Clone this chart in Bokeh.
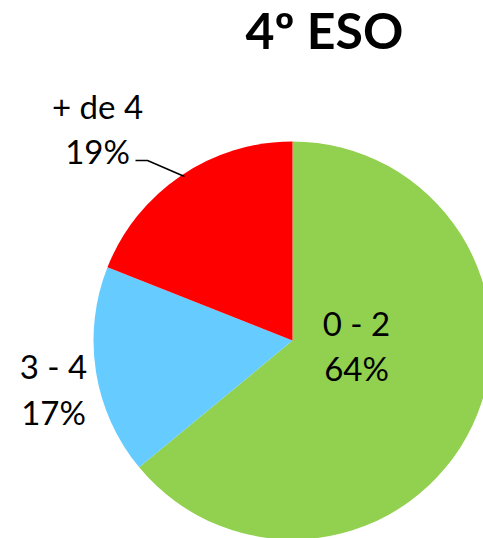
import math
from bokeh.plotting import figure
from bokeh.models import Range1d, ColumnDataSource
from bokeh.core.properties import value
from bokeh.embed import file_html
from bokeh.resources import INLINE

title = "4º ESO"
categories = ["0 - 2", "3 - 4", "+ de 4"]
percents = [64, 17, 19]
colors = ["#92D050", "#66CCFF", "#FF0000"]

W, H = 483, 538
p = figure(width=W, height=H, output_backend="svg", toolbar_location=None,
           x_range=Range1d(0, W), y_range=Range1d(0, H))
p.axis.visible = False
p.grid.visible = False
p.outline_line_color = None
p.min_border = 0
p.background_fill_color = "white"

cx, cy, r = 292, 198, 199
total = sum(percents)
starts, ends = [], []
a = math.pi / 2
for v in percents:
    starts.append(a)
    a = a - v / total * 2 * math.pi
    ends.append(a)

src = ColumnDataSource(dict(start=starts, end=ends, color=colors,
                            x=[cx] * 3, y=[cy] * 3))
p.wedge(x="x", y="y", radius=r, start_angle="start", end_angle="end",
        direction="clock", fill_color="color", line_color=None, source=src)

# leader line for "+ de 4"
p.line(x=[135, 147, 184], y=[378, 378, 362], line_color="black", line_width=1.5)

label_pos = [(356, 216, 171), (53, 173, 127), (97, 433, 388)]
font = value("Lato")
for cat, v, (lx, ly1, ly2) in zip(categories, percents, label_pos):
    p.text(x=[lx], y=[ly1], text=[cat], text_font=font, text_font_size="33px",
           text_align="center", text_baseline="middle", text_color="black")
    p.text(x=[lx], y=[ly2], text=[f"{v}%"], text_font=font, text_font_size="33px",
           text_align="center", text_baseline="middle", text_color="black")

p.text(x=[324], y=[509], text=[title], text_font=font, text_font_size="50px",
       text_font_style="bold", text_align="center", text_baseline="middle",
       text_color="black")

open("out.html", "w").write(file_html(p, INLINE))
